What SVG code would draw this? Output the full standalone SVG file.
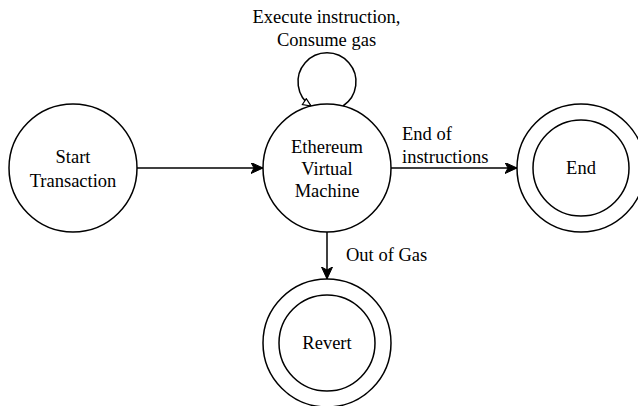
<svg xmlns="http://www.w3.org/2000/svg" width="638" height="406" viewBox="0 0 638 406">
<defs>
<style>
.n{fill:#fff;stroke:#000;stroke-width:1.5}
.e{fill:none;stroke:#000;stroke-width:1.5}
text{font-family:"Liberation Serif","Times New Roman",serif;font-size:18.5px;fill:#000}
.c{text-anchor:middle}
</style>
<marker id="arr" markerUnits="userSpaceOnUse" markerWidth="14" markerHeight="12" refX="12" refY="5.5" orient="auto">
<path d="M0,0 L12,5.5 L0,11 L3,5.5 Z" fill="#000" stroke="#000" stroke-width="1"/>
</marker>
<marker id="open" markerUnits="userSpaceOnUse" markerWidth="12" markerHeight="10" refX="9" refY="4" orient="auto">
<path d="M1,0.5 L9,4 L1,7.5 Z" fill="#fff" stroke="#000" stroke-width="1.2"/>
</marker>
</defs>
<rect width="638" height="406" fill="#fff"/>
<g id="connectors">
<path class="e" d="M137,168 L263,168" marker-end="url(#arr)"/>
<path class="e" d="M391,168 L517,168" marker-end="url(#arr)"/>
<path class="e" d="M327,232 L327,279" marker-end="url(#arr)"/>
<path class="e" d="M343,106 A29,29 0 1 0 311,106" marker-end="url(#open)"/>
<text x="326.5" y="23" class="c">Execute instruction,</text>
<text x="326.5" y="45.5" class="c">Consume gas</text>
<text x="402" y="139.5">End of</text>
<text x="402" y="162.5">instructions</text>
<text x="346" y="261">Out of Gas</text>
</g>
<g id="start">
<circle class="n" cx="73" cy="168" r="64"/>
<text x="73" y="163" class="c">Start</text>
<text x="73" y="186.5" class="c">Transaction</text>
</g>
<g id="evm">
<circle class="n" cx="327" cy="168" r="64"/>
<text x="327" y="152.5" class="c">Ethereum</text>
<text x="327" y="174.5" class="c">Virtual</text>
<text x="327" y="196.5" class="c">Machine</text>
</g>
<g id="end">
<circle class="n" cx="581" cy="168" r="64"/>
<circle class="n" cx="581" cy="168" r="48"/>
<text x="581" y="173.5" class="c">End</text>
</g>
<g id="revert">
<circle class="n" cx="327" cy="343" r="64"/>
<circle class="n" cx="327" cy="343" r="48"/>
<text x="327" y="349" class="c">Revert</text>
</g>
</svg>
